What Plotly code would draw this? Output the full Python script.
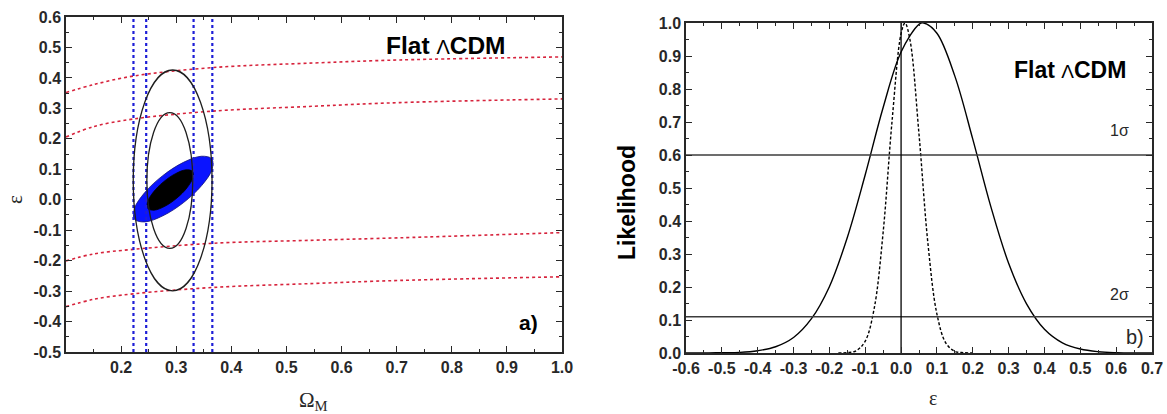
import plotly.graph_objects as go

# ---------------- Panel a) data ----------------
omega_red = [0.1, 0.15, 0.222, 0.367, 0.55, 0.706, 1.0]
eps_red_1 = [0.352, 0.378, 0.406, 0.434, 0.449, 0.459, 0.469]
eps_red_2 = [0.206, 0.240, 0.265, 0.291, 0.307, 0.319, 0.331]
eps_red_3 = [-0.201, -0.178, -0.163, -0.143, -0.133, -0.125, -0.108]
eps_red_4 = [-0.351, -0.327, -0.309, -0.288, -0.275, -0.265, -0.253]

omega_blue_lines = [0.2224, 0.2455, 0.3315, 0.3655]

# outline contours (bounding boxes): [x0, x1, y0, y1]
outer_contour = [0.222, 0.365, -0.299, 0.426]
inner_contour = [0.2467, 0.330, -0.160, 0.286]

# filled tilted contours, boundary points
blue_om = [0.3647, 0.3458, 0.3131, 0.2755, 0.2429, 0.2242, 0.2243, 0.2432,
           0.2759, 0.3135, 0.3461, 0.3648, 0.3647]
blue_ep = [0.1341, 0.1428, 0.1227, 0.0790, 0.0236, -0.0288, -0.0641, -0.0728,
           -0.0527, -0.0090, 0.0465, 0.0988, 0.1341]
black_om = [0.3294, 0.3179, 0.2986, 0.2767, 0.2582, 0.2479, 0.2486, 0.2601,
            0.2794, 0.3013, 0.3198, 0.3301, 0.3294]
black_ep = [0.0932, 0.0982, 0.0855, 0.0584, 0.0243, -0.0078, -0.0292, -0.0342,
            -0.0215, 0.0056, 0.0397, 0.0718, 0.0932]

left_xtick_vals = [0.2, 0.3, 0.4, 0.5, 0.6, 0.7, 0.8, 0.9, 1.0]
left_xtick_text = ["0.2", "0.3", "0.4", "0.5", "0.6", "0.7", "0.8", "0.9", "1.0"]
left_ytick_vals = [0.6, 0.5, 0.4, 0.3, 0.2, 0.1, 0.0, -0.1, -0.2, -0.3, -0.4, -0.5]
left_ytick_text = ["0.6", "0.5", "0.4", "0.3", "0.2", "0.1", "0.0", "-0.1", "-0.2",
                   "-0.3", "-0.4", "-0.5"]

# ---------------- Panel b) data ----------------
eps_solid = [-0.6, -0.55, -0.5, -0.45, -0.4, -0.35, -0.3, -0.25, -0.2, -0.15, -0.1,
             -0.05, 0.0, 0.05, 0.063, 0.1, 0.15, 0.2, 0.25, 0.3, 0.35, 0.4, 0.45,
             0.5, 0.55, 0.6, 0.65, 0.7]
like_solid = [0.0, 0.0, 0.001, 0.002, 0.007, 0.019, 0.047, 0.104, 0.201, 0.350, 0.540,
              0.744, 0.912, 0.996, 1.0, 0.969, 0.839, 0.648, 0.445, 0.272, 0.149, 0.072,
              0.031, 0.012, 0.004, 0.001, 0.0, 0.0]

eps_dash = [-0.175, -0.15, -0.125, -0.1, -0.075, -0.05, -0.025, 0.0, 0.011, 0.025,
            0.05, 0.075, 0.1, 0.125, 0.15, 0.175, 0.2]
like_dash = [0.0, 0.001, 0.007, 0.036, 0.135, 0.366, 0.705, 0.968, 1.0, 0.948,
             0.663, 0.331, 0.118, 0.030, 0.005, 0.001, 0.0]

sigma_levels = [0.6, 0.11]
sigma_labels = ["1σ", "2σ"]

right_xtick_vals = [-0.6, -0.5, -0.4, -0.3, -0.2, -0.1, 0.0, 0.1, 0.2, 0.3, 0.4, 0.5, 0.6, 0.7]
right_xtick_text = ["-0.6", "-0.5", "-0.4", "-0.3", "-0.2", "-0.1", "0.0", "0.1", "0.2",
                    "0.3", "0.4", "0.5", "0.6", "0.7"]
right_ytick_vals = [0.0, 0.1, 0.2, 0.3, 0.4, 0.5, 0.6, 0.7, 0.8, 0.9, 1.0]
right_ytick_text = ["0.0", "0.1", "0.2", "0.3", "0.4", "0.5", "0.6", "0.7", "0.8", "0.9", "1.0"]

W, H = 1167, 414
fig = go.Figure()

RED = "rgb(215,35,60)"
BLUE = "rgb(30,30,215)"

# red dotted lines
for ys in [eps_red_1, eps_red_2, eps_red_3, eps_red_4]:
    fig.add_trace(go.Scatter(x=omega_red, y=ys, mode="lines", xaxis="x", yaxis="y",
                             line=dict(color=RED, width=1.6, dash="dot", shape="spline"),
                             showlegend=False, hoverinfo="skip"))

# filled blue and black contours
fig.add_trace(go.Scatter(x=blue_om, y=blue_ep, mode="lines", fill="toself",
                         fillcolor="rgb(10,20,255)", xaxis="x", yaxis="y",
                         line=dict(color="rgb(20,20,120)", width=0.8, shape="spline"),
                         showlegend=False, hoverinfo="skip"))
fig.add_trace(go.Scatter(x=black_om, y=black_ep, mode="lines", fill="toself",
                         fillcolor="black", xaxis="x", yaxis="y",
                         line=dict(color="black", width=0.8, shape="spline"),
                         showlegend=False, hoverinfo="skip"))

# blue vertical dotted lines
for xv in omega_blue_lines:
    fig.add_trace(go.Scatter(x=[xv, xv], y=[-0.5, 0.6], mode="lines", xaxis="x", yaxis="y",
                             line=dict(color=BLUE, width=2.2, dash="dot"),
                             showlegend=False, hoverinfo="skip"))

shapes = []
for c in [outer_contour, inner_contour]:
    shapes.append(dict(type="circle", xref="x", yref="y", x0=c[0], x1=c[1], y0=c[2], y1=c[3],
                       line=dict(color="rgb(30,30,30)", width=1.3)))

# right panel curves
fig.add_trace(go.Scatter(x=eps_solid, y=like_solid, mode="lines", xaxis="x2", yaxis="y2",
                         line=dict(color="black", width=1.4, shape="spline"),
                         showlegend=False, hoverinfo="skip"))
fig.add_trace(go.Scatter(x=eps_dash, y=like_dash, mode="lines", xaxis="x2", yaxis="y2",
                         line=dict(color="black", width=1.4, dash="3px,2px", shape="spline"),
                         showlegend=False, hoverinfo="skip"))
for lv in sigma_levels:
    fig.add_trace(go.Scatter(x=[-0.6, 0.7], y=[lv, lv], mode="lines", xaxis="x2", yaxis="y2",
                             line=dict(color="rgb(60,60,60)", width=1.6),
                             showlegend=False, hoverinfo="skip"))
fig.add_trace(go.Scatter(x=[0.0, 0.0], y=[0.0, 1.0], mode="lines", xaxis="x2", yaxis="y2",
                         line=dict(color="black", width=1.3),
                         showlegend=False, hoverinfo="skip"))

TICKFONT = dict(family="Arial, Liberation Sans, sans-serif", size=16, color="rgb(40,40,40)",
                weight="bold")


def axis(domain, rng, tv, tt, anchor, minor_dtick):
    return dict(domain=domain, range=rng, tickvals=tv, ticktext=tt, anchor=anchor,
                automargin=False,
                showgrid=False, zeroline=False, showline=True, linecolor="rgb(40,40,40)",
                linewidth=1.5, mirror="allticks", ticks="inside", ticklen=6, tickwidth=1.2,
                tickcolor="rgb(40,40,40)", tickfont=TICKFONT,
                minor=dict(ticks="inside", ticklen=3.5, tickwidth=1.1, dtick=minor_dtick,
                           tick0=0, tickcolor="rgb(40,40,40)", showgrid=False))


lx = [66 / W, 562 / W]
rx = [686 / W, 1152 / W]
ly = [1 - 352 / H, 1 - 17 / H]
ry = [1 - 353 / H, 1 - 23 / H]

fig.update_layout(
    width=W, height=H, margin=dict(l=0, r=0, t=0, b=0, autoexpand=False),
    paper_bgcolor="white", plot_bgcolor="white", showlegend=False,
    xaxis=axis(lx, [0.1, 1.0], left_xtick_vals, left_xtick_text, "y", 0.05),
    yaxis=axis(ly, [-0.5, 0.6], left_ytick_vals, left_ytick_text, "x", 0.05),
    xaxis2=axis(rx, [-0.6, 0.7], right_xtick_vals, right_xtick_text, "y2", 0.05),
    yaxis2=axis(ry, [0.0, 1.0], right_ytick_vals, right_ytick_text, "x2", 0.05),
    shapes=shapes,
)

ann = []
TITLE_L = "<b>Flat </b><span style='font-size:20px'>Λ</span><b>CDM</b>"
TITLE_R = "<b>Flat </b><span style='font-size:19px'>Λ</span><b>CDM</b>"
FONT_A = "Arial, Liberation Sans, sans-serif"
FONT_S = "Liberation Serif, Times New Roman, serif"


def a(text, x, y, xref, yref, size, color="black", angle=0, family=FONT_A):
    return dict(text=text, x=x, y=y, xref=xref, yref=yref, showarrow=False,
                xanchor="center", yanchor="middle", textangle=angle,
                font=dict(family=family, size=size, color=color))


ann.append(a(TITLE_L, 0.79, 0.505, "x", "y", 24.5))
ann.append(a("<b>a)</b>", 0.94, -0.402, "x", "y", 21))
ann.append(a(TITLE_R, 0.471, 0.858, "x2", "y2", 23))
for lab, yy in zip(sigma_labels, [0.673, 0.176]):
    ann.append(a(lab, 0.608, yy, "x2", "y2", 16, "rgb(40,40,40)"))
ann.append(a("b)", 0.652, 0.048, "x2", "y2", 20, "rgb(40,40,40)"))
# axis titles
ann.append(a("ε", 15 / W, 1 - 200 / H, "paper", "paper", 21, "rgb(40,40,40)", -90, FONT_S))
ann.append(a("Ω<sub>M</sub>", 313 / W, 1 - 401 / H, "paper", "paper", 21, "rgb(40,40,40)", 0, FONT_S))
ann.append(a("<b>Likelihood</b>", 627 / W, 1 - 203 / H, "paper", "paper", 23, "black", -90))
ann.append(a("ε", 933 / W, 1 - 398 / H, "paper", "paper", 20, "rgb(40,40,40)", 0, FONT_S))
fig.update_layout(annotations=ann)

fig.write_html("out.html", config={"displayModeBar": False},
               post_script="document.body.style.margin='0px';document.body.style.overflow='hidden';")
